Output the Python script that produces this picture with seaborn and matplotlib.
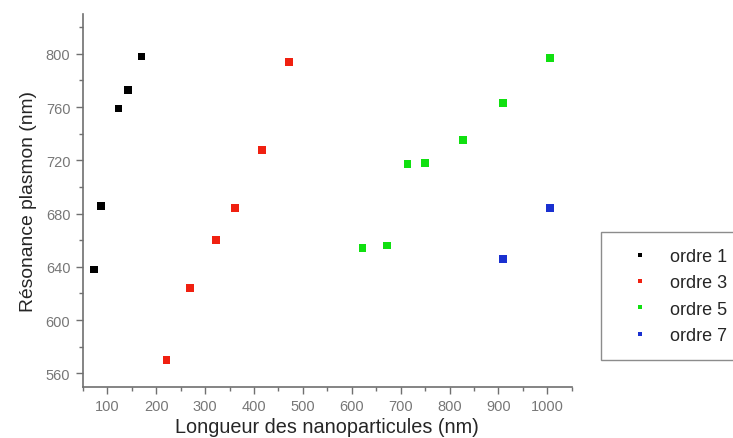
import matplotlib
matplotlib.use("Agg")
import matplotlib.pyplot as plt
from matplotlib.ticker import MultipleLocator
import pandas as pd
import seaborn as sns

# valeurs
ordre1_x = [72, 87, 123, 142, 170]
ordre1_y = [638, 686, 759, 773, 798]
ordre3_x = [221, 270, 323, 362, 417, 472]
ordre3_y = [570, 624, 660, 684, 728, 794]
ordre5_x = [622, 672, 714, 750, 828, 909, 1006]
ordre5_y = [654, 656, 717, 718, 735, 763, 797]
ordre7_x = [910, 1006]
ordre7_y = [646, 684]

labels = ["ordre 1", "ordre 3", "ordre 5", "ordre 7"]
colors = ["#000000", "#f02010", "#10e010", "#1a30d0"]


def build_df():
    rows = []
    for lab, xs, ys in zip(labels,
                           [ordre1_x, ordre3_x, ordre5_x, ordre7_x],
                           [ordre1_y, ordre3_y, ordre5_y, ordre7_y]):
        for x, y in zip(xs, ys):
            rows.append({"longueur": x, "resonance": y, "ordre": lab})
    return pd.DataFrame(rows)


def main():
    df = build_df()

    sns.set_style("white")
    plt.rcParams["font.family"] = ["Liberation Sans", "DejaVu Sans"]

    fig = plt.figure(figsize=(7.33, 4.39), dpi=100)
    ax = fig.add_axes([0.113, 0.117, 0.667, 0.849])

    sns.scatterplot(data=df, x="longueur", y="resonance", hue="ordre",
                    palette=colors, marker="s", s=32, edgecolor="none",
                    linewidth=0, ax=ax)

    ax.set_xlim(50, 1050)
    ax.set_ylim(550, 830)
    ax.xaxis.set_major_locator(MultipleLocator(100))
    ax.xaxis.set_minor_locator(MultipleLocator(50))
    ax.yaxis.set_major_locator(MultipleLocator(40))
    ax.yaxis.set_minor_locator(MultipleLocator(20))

    for side in ["top", "right"]:
        ax.spines[side].set_visible(False)
    for side in ["left", "bottom"]:
        ax.spines[side].set_color("#707070")
        ax.spines[side].set_linewidth(1.2)

    ax.tick_params(which="major", direction="out", length=5, width=1,
                   color="#707070", labelcolor="#777777", labelsize=10.5,
                   left=True, bottom=True, pad=4)
    ax.tick_params(which="minor", direction="out", length=3, width=1,
                   color="#707070", left=True, bottom=True)

    ax.set_xlabel("Longueur des nanoparticules (nm)", fontsize=14.3, labelpad=3)
    ax.set_ylabel("Résonance plasmon (nm)", fontsize=13.9, labelpad=6)

    handles, labs = ax.get_legend_handles_labels()
    leg = ax.legend(handles, labs, loc="upper left",
                    bbox_to_anchor=(1.06, 0.416), frameon=True, fancybox=False,
                    fontsize=13, markerscale=0.6, handletextpad=0.4,
                    borderpad=0.9, labelspacing=0.52, borderaxespad=0,
                    handlelength=2.5)
    leg.get_frame().set_edgecolor("#707070")
    leg.get_frame().set_linewidth(1.0)

    fig.savefig("out.png", dpi=100)


if __name__ == '__main__':
    main()
